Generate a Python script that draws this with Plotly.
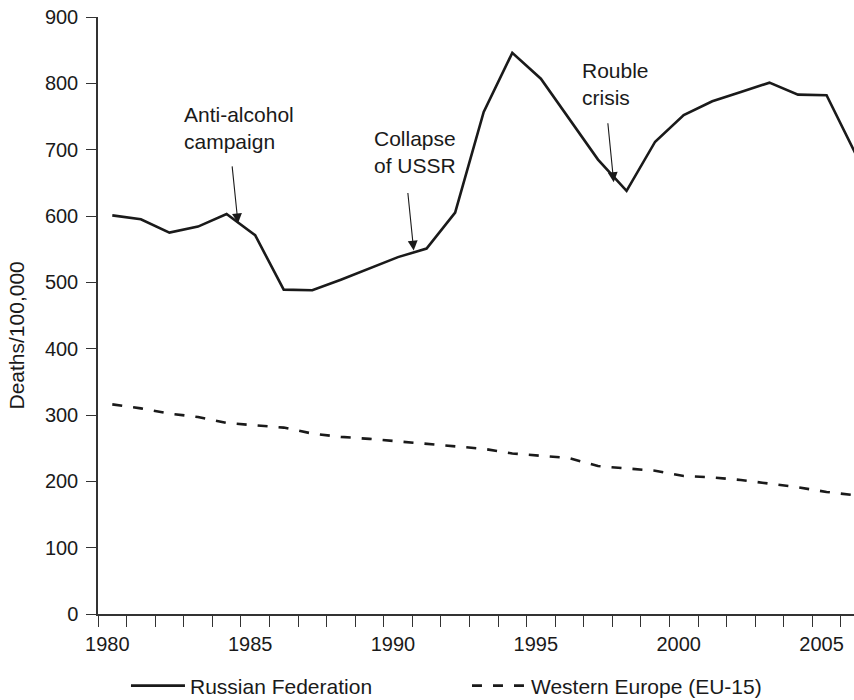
import plotly.graph_objects as go

years = list(range(1980, 2007))
russia = [601, 595, 575, 584, 603, 571, 489, 488, 504, 521, 538, 551, 605, 757, 846,
          807, 746, 685, 638, 712, 752, 773, 787, 801, 783, 782, 695]
western_europe = [316, 310, 302, 297, 288, 284, 281, 272, 267, 264, 260, 256, 252, 249, 242,
                  239, 235, 223, 220, 216, 208, 206, 202, 197, 191, 184, 179]

tick_years = [1980, 1985, 1990, 1995, 2000, 2005]
y_ticks = [0, 100, 200, 300, 400, 500, 600, 700, 800, 900]

event_labels = ["Anti-alcohol<br>campaign", "Collapse<br>of USSR", "Rouble<br>crisis"]
event_text_x = [1982.44, 1989.09, 1996.38]
event_text_y = [732, 696, 799]
event_tip_x = [1984.4, 1990.55, 1997.55]
event_tip_y = [589, 548, 651]
event_tail_x = [1984.19, 1990.34, 1997.34]
event_tail_y = [677, 637, 742]

FONT = "Liberation Sans, Arial, sans-serif"
INK = "#1a1a1a"

fig = go.Figure()
fig.add_trace(go.Scatter(x=years, y=russia, mode="lines", name="Russian Federation",
                         line=dict(color=INK, width=2.6)))
fig.add_trace(go.Scatter(x=years, y=western_europe, mode="lines", name="Western Europe (EU-15)",
                         line=dict(color=INK, width=2.6, dash="10px,11px")))

for lab, tx, ty in zip(event_labels, event_text_x, event_text_y):
    fig.add_annotation(x=tx, y=ty, xref="x", yref="y", text=lab, showarrow=False,
                       xanchor="left", yanchor="middle", align="left",
                       font=dict(family=FONT, size=21, color=INK))
for hx, hy, sx, sy in zip(event_tip_x, event_tip_y, event_tail_x, event_tail_y):
    fig.add_annotation(x=hx, y=hy, ax=sx, ay=sy, xref="x", yref="y", axref="x", ayref="y",
                       text="", showarrow=True, arrowhead=2, arrowsize=1.8, arrowwidth=1.1,
                       arrowcolor=INK)

fig.add_annotation(x=-0.1075, y=0.466, xref="paper", yref="paper", text="Deaths/100,000",
                   textangle=-90, showarrow=False, xanchor="center", yanchor="middle",
                   font=dict(family=FONT, size=21, color=INK))

fig.update_layout(
    width=854, height=700,
    margin=dict(l=98, r=0, t=17, b=86, autoexpand=False),
    paper_bgcolor="white", plot_bgcolor="white",
    font=dict(family=FONT, size=20, color=INK),
    showlegend=True,
    legend=dict(orientation="h", x=0.037, y=-0.1206, xanchor="left", yanchor="middle",
                font=dict(family=FONT, size=21, color=INK),
                entrywidth=272, entrywidthmode="pixels", itemwidth=54,
                bgcolor="rgba(0,0,0,0)"),
)
fig.update_xaxes(range=[1979.5, 2005.96], showgrid=False, zeroline=False,
                 showline=True, linecolor="#333", linewidth=1.5,
                 tickvals=tick_years, ticktext=[str(t) for t in tick_years],
                 ticks="outside", ticklen=11, tickcolor="rgba(0,0,0,0)",
                 ticklabelshift=-5,
                 tickfont=dict(family=FONT, size=20, color=INK),
                 minor=dict(ticks="outside", tick0=1979.5, dtick=1, ticklen=11,
                            tickcolor="#333", tickwidth=1.3, showgrid=False))
fig.update_yaxes(range=[0, 900], showgrid=False, zeroline=False,
                 showline=True, linecolor="#333", linewidth=1.5,
                 tickvals=y_ticks, ticks="outside", ticklen=10, tickcolor="#333", tickwidth=1.3,
                 ticklabelstandoff=4,
                 tickfont=dict(family=FONT, size=20, color=INK))

fig.write_html("out.html", config={"displayModeBar": False},
               post_script="document.body.style.margin='0';")
